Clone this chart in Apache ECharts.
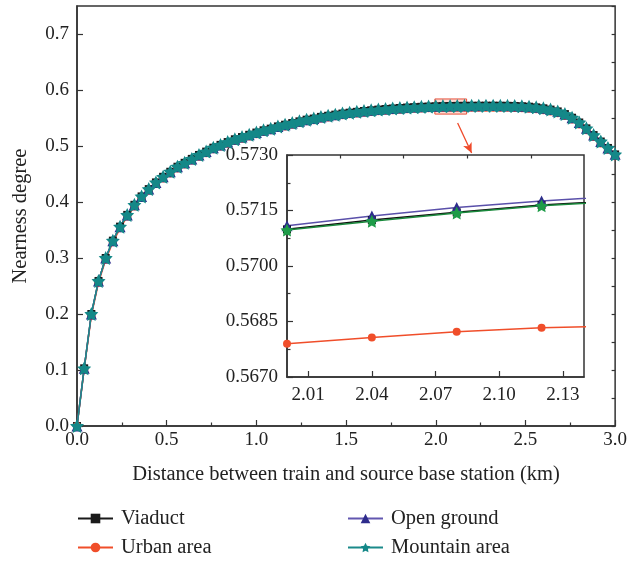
<!DOCTYPE html>
<html>
<head>
<meta charset="utf-8">
<script src="https://cdn.jsdelivr.net/npm/echarts@6/dist/echarts.min.js"></script>
<style>
  html, body { margin: 0; padding: 0; background: #fff; }
  #plot { width: 630px; height: 561px; }
</style>
</head>
<body>
<div id="plot"></div>
<script>
// distance between train and source base station (km)
const distance = [
  0, 0.04, 0.08, 0.12, 0.16, 0.2, 0.24, 0.28, 0.32, 0.36,
  0.4, 0.44, 0.48, 0.52, 0.56, 0.6, 0.64, 0.68, 0.72, 0.76,
  0.8, 0.84, 0.88, 0.92, 0.96, 1.0, 1.04, 1.08, 1.12, 1.16,
  1.2, 1.24, 1.28, 1.32, 1.36, 1.4, 1.44, 1.48, 1.52, 1.56,
  1.6, 1.64, 1.68, 1.72, 1.76, 1.8, 1.84, 1.88, 1.92, 1.96,
  2.0, 2.04, 2.08, 2.12, 2.16, 2.2, 2.24, 2.28, 2.32, 2.36,
  2.4, 2.44, 2.48, 2.52, 2.56, 2.6, 2.64, 2.68, 2.72, 2.76,
  2.8, 2.84, 2.88, 2.92, 2.96, 3.0,
];

const viaduct = [
  0, 0.103, 0.2, 0.259, 0.3, 0.331, 0.356, 0.377, 0.395, 0.41,
  0.423, 0.435, 0.445, 0.454, 0.463, 0.47, 0.477, 0.484, 0.49, 0.497,
  0.502, 0.507, 0.512, 0.516, 0.52, 0.524, 0.528, 0.531, 0.535, 0.538,
  0.541, 0.544, 0.547, 0.549, 0.552, 0.554, 0.556, 0.558, 0.5595, 0.561,
  0.5625, 0.5638, 0.565, 0.566, 0.567, 0.5679, 0.5687, 0.5694, 0.57, 0.5705,
  0.57099, 0.57124, 0.57145, 0.57165, 0.57178, 0.5719, 0.57198, 0.57202, 0.57201, 0.57195,
  0.5718, 0.5715, 0.571, 0.5702, 0.569, 0.5673, 0.565, 0.5618, 0.557, 0.5505,
  0.542, 0.5315, 0.5195, 0.508, 0.4965, 0.485,
];

const urbanArea = [
  0, 0.101, 0.197, 0.256, 0.297, 0.328, 0.353, 0.374, 0.392, 0.407,
  0.42, 0.432, 0.442, 0.451, 0.46, 0.467, 0.474, 0.481, 0.487, 0.494,
  0.499, 0.504, 0.509, 0.513, 0.517, 0.521, 0.525, 0.528, 0.532, 0.535,
  0.538, 0.541, 0.544, 0.546, 0.549, 0.551, 0.553, 0.555, 0.5565, 0.558,
  0.5595, 0.5608, 0.562, 0.563, 0.564, 0.5649, 0.5657, 0.5664, 0.567, 0.5675,
  0.5679, 0.56807, 0.56822, 0.56833, 0.56839, 0.56844, 0.56847, 0.56848, 0.56846, 0.5684,
  0.5683, 0.568, 0.5675, 0.5667, 0.5655, 0.5638, 0.5615, 0.5583, 0.5536, 0.5471,
  0.5386, 0.5281, 0.5161, 0.5046, 0.4931, 0.4816,
];

const openGround = [
  0, 0.103, 0.2, 0.259, 0.3, 0.331, 0.356, 0.377, 0.395, 0.41,
  0.423, 0.435, 0.445, 0.454, 0.463, 0.47, 0.477, 0.484, 0.49, 0.497,
  0.502, 0.507, 0.512, 0.516, 0.52, 0.524, 0.528, 0.531, 0.535, 0.538,
  0.541, 0.544, 0.547, 0.549, 0.552, 0.554, 0.556, 0.558, 0.5596, 0.5611,
  0.5626, 0.5639, 0.5651, 0.5661, 0.5671, 0.568, 0.5688, 0.5695, 0.5701, 0.5706,
  0.57109, 0.57135, 0.57158, 0.57176, 0.5719, 0.57201, 0.57209, 0.57213, 0.57212, 0.57206,
  0.5719, 0.5716, 0.5711, 0.5703, 0.5691, 0.5674, 0.5651, 0.5619, 0.5571, 0.5506,
  0.5421, 0.5316, 0.5196, 0.5081, 0.4966, 0.4851,
];

const mountainArea = [
  0, 0.103, 0.2, 0.259, 0.3, 0.331, 0.356, 0.377, 0.395, 0.41,
  0.423, 0.435, 0.445, 0.454, 0.463, 0.47, 0.477, 0.484, 0.49, 0.497,
  0.502, 0.507, 0.512, 0.516, 0.52, 0.524, 0.528, 0.531, 0.535, 0.538,
  0.541, 0.544, 0.547, 0.549, 0.552, 0.554, 0.556, 0.558, 0.5595, 0.561,
  0.5625, 0.5638, 0.565, 0.566, 0.567, 0.5679, 0.5687, 0.5694, 0.57, 0.5705,
  0.57097, 0.57121, 0.57143, 0.57163, 0.57176, 0.5719, 0.57198, 0.57202, 0.57201, 0.57195,
  0.5718, 0.5715, 0.571, 0.5702, 0.569, 0.5673, 0.565, 0.5618, 0.557, 0.5505,
  0.542, 0.5315, 0.5195, 0.508, 0.4965, 0.485,
];

// inset ticks
const insetXTicks = [2.01, 2.04, 2.07, 2.1, 2.13];
const insetXMinor = [2.025, 2.055, 2.085, 2.115];

// zoom box + arrow pointing at the inset (data coords of main axes)
const zoomBox = [[1.995, 0.557], [2.172, 0.584]];
const arrowLine = [[2.122, 0.541], [2.2, 0.4875]];

const FONT = '"Liberation Serif", "Times New Roman", serif';
const AXIS = "#333";
const STAR = "path://M0,-10 L2.94,-4.05 L9.51,-3.09 L4.76,1.55 L5.88,8.09 L0,5 L-5.88,8.09 L-4.76,1.55 L-9.51,-3.09 L-2.94,-4.05 Z";

function pairs(ys) {
  return distance.map(function (x, i) { return [x, ys[i]]; });
}

const tickStyle = { fontFamily: FONT, fontSize: 19, color: "#222" };
const nameStyle = { fontFamily: FONT, fontSize: 20.5, color: "#222" };

const chart = echarts.init(document.getElementById("plot"));

const mainSeries = [
  { name: "Viaduct", data: viaduct, color: "#1a1a1a", line: "#1a1a1a", symbol: "rect", size: 8 },
  { name: "Urban area", data: urbanArea, color: "#f04e2a", line: "#f04e2a", symbol: "circle", size: 8 },
  { name: "Open ground", data: openGround, color: "#2e2c8c", line: "#6257b0", symbol: "triangle", size: 11 },
  { name: "Mountain area", data: mountainArea, color: "#148888", line: "#1b8a8a", symbol: STAR, size: 14 },
];

const series = [];
mainSeries.forEach(function (s) {
  series.push({
    name: s.name,
    type: "line",
    xAxisIndex: 0,
    yAxisIndex: 0,
    data: pairs(s.data),
    symbol: s.symbol,
    symbolSize: s.size,
    showAllSymbol: true,
    itemStyle: { color: s.color },
    lineStyle: { color: s.line, width: 1.5 },
    emphasis: { disabled: true },
  });
});

// inset, same data zoomed in
const insetStyle = {
  "Viaduct": { color: "#111", line: "#111", size: 8 },
  "Urban area": { color: "#f04e2a", line: "#f04e2a", size: 8 },
  "Open ground": { color: "#2e2c8c", line: "#5a50aa", size: 11 },
  "Mountain area": { color: "#1e9c48", line: "#1a8a3c", size: 13 },
};
mainSeries.forEach(function (s) {
  const st = insetStyle[s.name];
  series.push({
    name: s.name,
    type: "line",
    xAxisIndex: 1,
    yAxisIndex: 2,
    data: pairs(s.data),
    symbol: s.symbol,
    symbolSize: st.size,
    showAllSymbol: true,
    clip: true,
    itemStyle: { color: st.color },
    lineStyle: { color: st.line, width: 1.5 },
    emphasis: { disabled: true },
  });
});

// annotation: highlight box + arrow
series.push({
  type: "line",
  xAxisIndex: 0,
  yAxisIndex: 0,
  data: [],
  z: 10,
  silent: true,
  markArea: {
    silent: true,
    itemStyle: { color: "rgba(255,190,175,0.55)", borderColor: "#e8503a", borderWidth: 1 },
    data: [[{ coord: zoomBox[0] }, { coord: zoomBox[1] }]],
  },
  markLine: {
    silent: true,
    symbol: ["none", "arrow"],
    symbolSize: [7, 10],
    label: { show: false },
    lineStyle: { color: "#ef4a2a", width: 1.3, type: "solid" },
    data: [[{ coord: arrowLine[0] }, { coord: arrowLine[1] }]],
  },
});

function legendItem(name, left, top) {
  return {
    data: [name],
    left: left,
    top: top,
    padding: 0,
    itemWidth: 35,
    itemHeight: 12,
    itemGap: 8,
    textStyle: Object.assign({ padding: [0, 0, 0, 3] }, nameStyle),
    selectedMode: false,
  };
}

const option = {
  animation: false,
  backgroundColor: "#fff",
  textStyle: { fontFamily: FONT },
  grid: [
    { left: 77, right: 13, top: 6, bottom: 135, show: true, borderColor: AXIS, borderWidth: 1.5 },
    { left: 287, top: 155, width: 297, height: 222, show: true, borderColor: AXIS, borderWidth: 1.5, backgroundColor: "#fff" },
  ],
  legend: [
    legendItem("Viaduct", 77, 508),
    legendItem("Urban area", 77, 537),
    legendItem("Open ground", 347, 508),
    legendItem("Mountain area", 347, 537),
  ],
  xAxis: [
    {
      gridIndex: 0,
      type: "value",
      min: 0,
      max: 3,
      interval: 0.5,
      name: "Distance between train and source base station (km)",
      nameLocation: "middle",
      nameGap: 38,
      nameTextStyle: nameStyle,
      axisLine: { lineStyle: { color: AXIS, width: 1.5 } },
      axisTick: { inside: true, length: 6, lineStyle: { color: AXIS, width: 1.2 } },
      minorTick: { show: true, splitNumber: 2, length: 3.5, lineStyle: { color: AXIS, width: 1.2 } },
      splitLine: { show: false },
      axisLabel: Object.assign({ margin: 5, formatter: function (v) { return v.toFixed(1); } }, tickStyle),
    },
    {
      gridIndex: 1,
      type: "value",
      min: 2.0,
      max: 2.14,
      axisLine: { lineStyle: { color: AXIS, width: 1.5 } },
      axisTick: { inside: true, length: 6, customValues: insetXTicks, lineStyle: { color: AXIS, width: 1.2 } },
      splitLine: { show: false },
      axisLabel: Object.assign({ margin: 9, customValues: insetXTicks, formatter: function (v) { return v.toFixed(2); } }, tickStyle),
    },
    {
      gridIndex: 1,
      type: "value",
      min: 2.0,
      max: 2.14,
      axisLine: { show: false },
      axisTick: { inside: true, length: 3.5, customValues: insetXMinor, lineStyle: { color: AXIS, width: 1.2 } },
      splitLine: { show: false },
      axisLabel: { show: false },
    },
  ],
  yAxis: [
    {
      gridIndex: 0,
      type: "value",
      min: 0,
      max: 0.75,
      interval: 0.1,
      name: "Nearness degree",
      nameLocation: "middle",
      nameGap: 46,
      nameTextStyle: nameStyle,
      axisLine: { lineStyle: { color: AXIS, width: 1.5 } },
      axisTick: { inside: true, length: 6, lineStyle: { color: AXIS, width: 1.2 } },
      splitLine: { show: false },
      axisLabel: Object.assign({ margin: 8, showMaxLabel: false, formatter: function (v) { return v.toFixed(1); } }, tickStyle),
    },
    {
      gridIndex: 0,
      type: "value",
      min: 0,
      max: 0.75,
      interval: 0.05,
      axisLine: { show: false },
      axisTick: { inside: true, length: 3.5, lineStyle: { color: AXIS, width: 1.2 } },
      splitLine: { show: false },
      axisLabel: { show: false },
    },
    {
      gridIndex: 1,
      type: "value",
      min: 0.567,
      max: 0.573,
      interval: 0.0015,
      axisLine: { lineStyle: { color: AXIS, width: 1.5 } },
      axisTick: { inside: true, length: 6, lineStyle: { color: AXIS, width: 1.2 } },
      minorTick: { show: true, splitNumber: 2, length: 3.5, lineStyle: { color: AXIS, width: 1.2 } },
      splitLine: { show: false },
      axisLabel: Object.assign({ margin: 9, formatter: function (v) { return v.toFixed(4); } }, tickStyle),
    },
  ],
  series: series,
};

chart.setOption(option);
</script>
</body>
</html>
